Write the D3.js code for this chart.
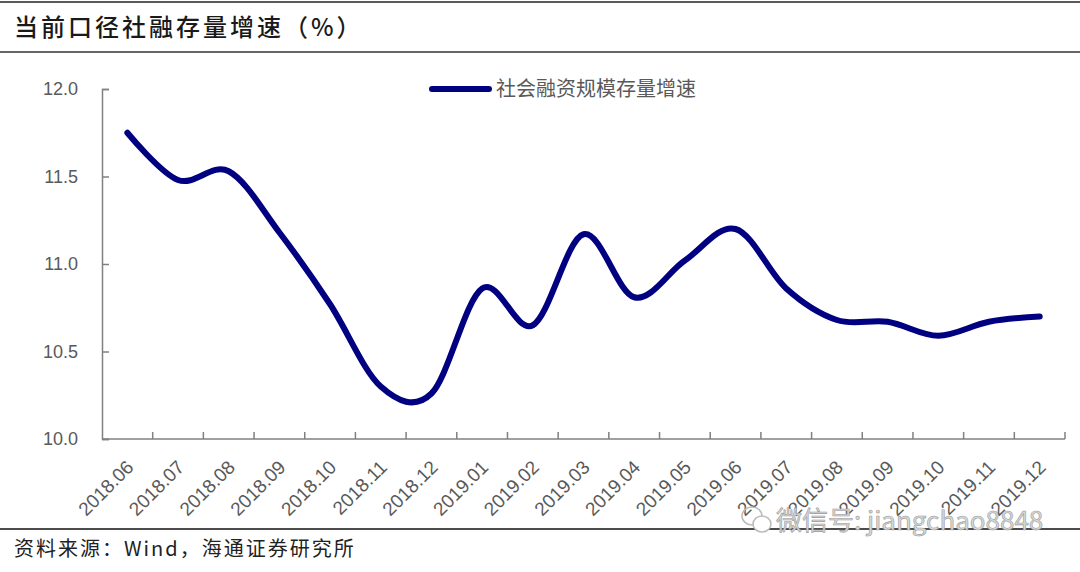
<!DOCTYPE html>
<html>
<head>
<meta charset="utf-8">
<script src="https://cdn.jsdelivr.net/npm/d3@7"></script>
<style>
  body { margin: 0; background: #fff; }
  svg { display: block; }
</style>
</head>
<body>
<div id="chart"></div>
<script>
const months = ['2018.06', '2018.07', '2018.08', '2018.09', '2018.10', '2018.11', '2018.12',
  '2019.01', '2019.02', '2019.03', '2019.04', '2019.05', '2019.06', '2019.07',
  '2019.08', '2019.09', '2019.10', '2019.11', '2019.12'];
const stockGrowth = [11.75, 11.48, 11.53, 11.18, 10.77, 10.30, 10.26,
  10.86, 10.65, 11.17, 10.81, 11.02, 11.20, 10.86,
  10.68, 10.67, 10.59, 10.67, 10.70];
const yTicks = [10.0, 10.5, 11.0, 11.5, 12.0];

const W = 1080, H = 572;
const margin = { top: 89, right: 15, bottom: 133, left: 102 };
const numFont = '"Liberation Sans", Arial, sans-serif';
const cjkFont = '"Noto Sans CJK SC", sans-serif';

const svg = d3.select('#chart')
  .append('svg')
  .attr('width', W)
  .attr('height', H);

// frame lines
svg.append('line').attr('x1', 0).attr('x2', W).attr('y1', 2).attr('y2', 2)
  .attr('stroke', '#222').attr('stroke-width', 1.5);
svg.append('line').attr('x1', 0).attr('x2', W).attr('y1', 52).attr('y2', 52)
  .attr('stroke', '#666').attr('stroke-width', 2);
svg.append('line').attr('x1', 0).attr('x2', W).attr('y1', 529).attr('y2', 529)
  .attr('stroke', '#111').attr('stroke-width', 1.5);

svg.append('text')
  .attr('x', 14).attr('y', 36)
  .attr('font-family', cjkFont).attr('font-size', 24).attr('font-weight', 500)
  .attr('letter-spacing', 3)
  .attr('fill', '#1a1a1a')
  .text('当前口径社融存量增速（%）');

svg.append('text')
  .attr('x', 14).attr('y', 556)
  .attr('font-family', cjkFont).attr('font-size', 20)
  .attr('letter-spacing', 2)
  .attr('fill', '#222')
  .text('资料来源：Wind，海通证券研究所');

const g = svg.append('g')
  .attr('transform', `translate(${margin.left},${margin.top})`);

const x = d3.scaleBand()
  .domain(months)
  .range([0, 963])
  .padding(0);

const y = d3.scaleLinear()
  .domain([10, 12])
  .range([350, 0]);

// y axis
const yAxis = g.append('g')
  .call(d3.axisLeft(y).tickValues(yTicks).tickSize(-7).tickPadding(24).tickFormat(d3.format('.1f')));
yAxis.select('.domain').attr('stroke', '#808080').attr('stroke-width', 1.5);
yAxis.selectAll('.tick line').attr('stroke', '#808080').attr('stroke-width', 1.5);
yAxis.selectAll('.tick text')
  .attr('font-family', numFont).attr('font-size', 18).attr('fill', '#595959');

// x axis
const xAxis = g.append('g').attr('transform', `translate(0,${y(10)})`);
xAxis.append('line')
  .attr('x1', 0).attr('x2', x.range()[1])
  .attr('stroke', '#808080').attr('stroke-width', 1.5);
const bounds = months.map(m => x(m)).concat([x.range()[1]]).slice(1);
xAxis.selectAll('.xtick')
  .data(bounds)
  .enter()
  .append('line')
  .attr('class', 'xtick')
  .attr('x1', d => d).attr('x2', d => d)
  .attr('y1', 0).attr('y2', -7)
  .attr('stroke', '#808080').attr('stroke-width', 1.5);
xAxis.selectAll('.xlabel')
  .data(months)
  .enter()
  .append('text')
  .attr('class', 'xlabel')
  .attr('transform', d => `translate(${x(d) + x.bandwidth() / 2 - 2},${20}) rotate(-45)`)
  .attr('text-anchor', 'end')
  .attr('dy', '0.7em')
  .attr('font-family', numFont).attr('font-size', 19).attr('fill', '#595959')
  .text(d => d);

// line
const line = d3.line()
  .x((d, i) => x(months[i]) + x.bandwidth() / 2)
  .y(d => y(d))
  .curve(d3.curveCatmullRom.alpha(0));

g.append('path')
  .datum(stockGrowth)
  .attr('fill', 'none')
  .attr('stroke', '#000080')
  .attr('stroke-width', 6)
  .attr('stroke-linecap', 'round')
  .attr('stroke-linejoin', 'round')
  .attr('d', line);

// legend
const legend = svg.append('g').attr('transform', 'translate(432,89)');
legend.append('line')
  .attr('x1', 0).attr('x2', 57)
  .attr('stroke', '#000080').attr('stroke-width', 6).attr('stroke-linecap', 'round');
legend.append('text')
  .attr('x', 64).attr('y', 7)
  .attr('font-family', cjkFont).attr('font-size', 20)
  .attr('fill', '#595959')
  .text('社会融资规模存量增速');

// watermark
const wm = svg.append('g').attr('transform', 'translate(752,520)');
wm.append('ellipse').attr('cx', 0).attr('cy', -4).attr('rx', 10).attr('ry', 9)
  .attr('fill', 'none').attr('stroke', '#bbb').attr('stroke-width', 1.5);
wm.append('ellipse').attr('cx', 10).attr('cy', 4).attr('rx', 9).attr('ry', 8)
  .attr('fill', '#fff').attr('stroke', '#bbb').attr('stroke-width', 1.5);
wm.append('text')
  .attr('x', 24).attr('y', 10)
  .attr('font-family', cjkFont).attr('font-size', 26)
  .attr('fill', '#d8d8d8').attr('stroke', '#9a9a9a').attr('stroke-width', 0.6)
  .text('微信号: jiangchao8848');
</script>
</body>
</html>
